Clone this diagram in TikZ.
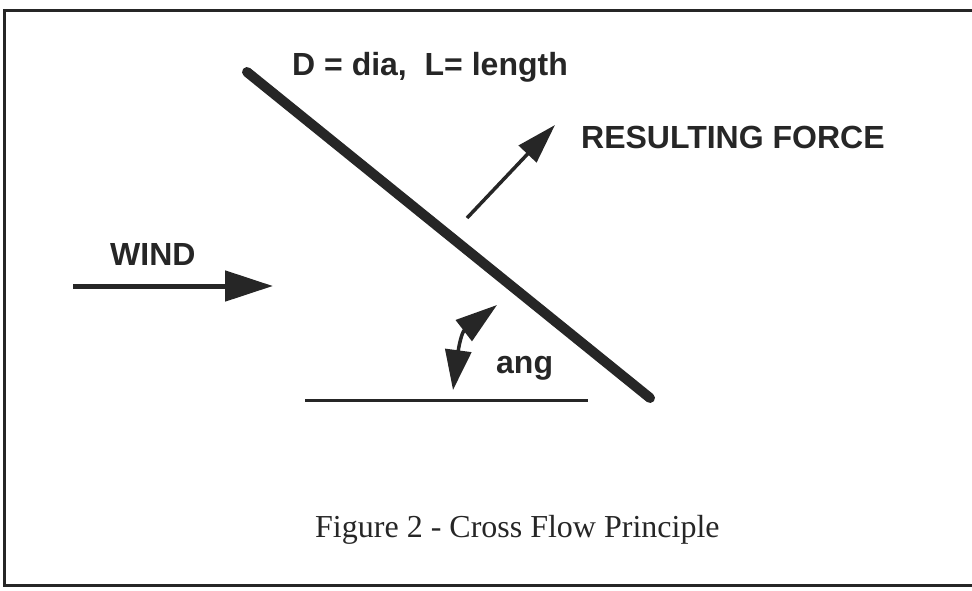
\documentclass[tikz,border=0pt]{standalone}
\usepackage{fontspec}
\setmainfont{Liberation Serif}
\newfontfamily\hvb{Liberation Sans}
\usetikzlibrary{arrows.meta}
\definecolor{ink}{HTML}{262626}
\begin{document}
\begin{tikzpicture}[x=1pt,y=-1pt,
  lbl/.style={inner sep=0pt,anchor=base west,text=ink,font=\hvb\bfseries\fontsize{32}{36}\selectfont},
  captiontext/.style={inner sep=0pt,anchor=base west,text=ink,font=\fontsize{32}{36}\selectfont},
  bigtip/.style={-{Triangle[length=48pt,width=30pt]}},
  midtip/.style={-{Triangle[length=40pt,width=24pt]}},
  dbltip/.style={{Triangle[length=40pt,width=26pt]}-{Triangle[length=42pt,width=26pt]}}]
\useasboundingbox (0,0) rectangle (972,590);
% frame (no right side visible)
\draw[ink,line width=3pt] (972,10) -- (4,10) -- (4,585) -- (972,585);
% texts
\node[lbl] (dl) at (292,75) {D = dia,\ \ L= length};
\node[lbl] (rf) at (581,148) {RESULTING FORCE};
\node[lbl] (wind) at (110,265) {WIND};
\node[lbl] (ang) at (496,373) {ang};
\node[captiontext] (fig) at (315,537) {Figure 2 - Cross Flow Principle};
% element
\coordinate (e1) at (247,72);
\coordinate (e2) at (650,398);
\draw[ink,line width=10pt,line cap=round] (e1) -- (e2);
% horizontal reference
\coordinate (h1) at (305,400);
\coordinate (h2) at (588,400);
\draw[ink,line width=3pt] (h1) -- (h2);
% wind arrow
\coordinate (w1) at (73,286);
\coordinate (w2) at (273,286);
\draw[ink,line width=5pt,bigtip] (w1) -- (w2);
% resulting force arrow
\coordinate (r1) at (467,218);
\coordinate (r2) at (555,125);
\draw[ink,line width=3.5pt,midtip] (r1) -- (r2);
% angle arrow
\coordinate (a1) at (453,390);
\coordinate (a2) at (497,305);
\draw[ink,line width=3.5pt,dbltip] (a1) .. controls (459,345) and (462,332) .. (a2);
\end{tikzpicture}
\end{document}
